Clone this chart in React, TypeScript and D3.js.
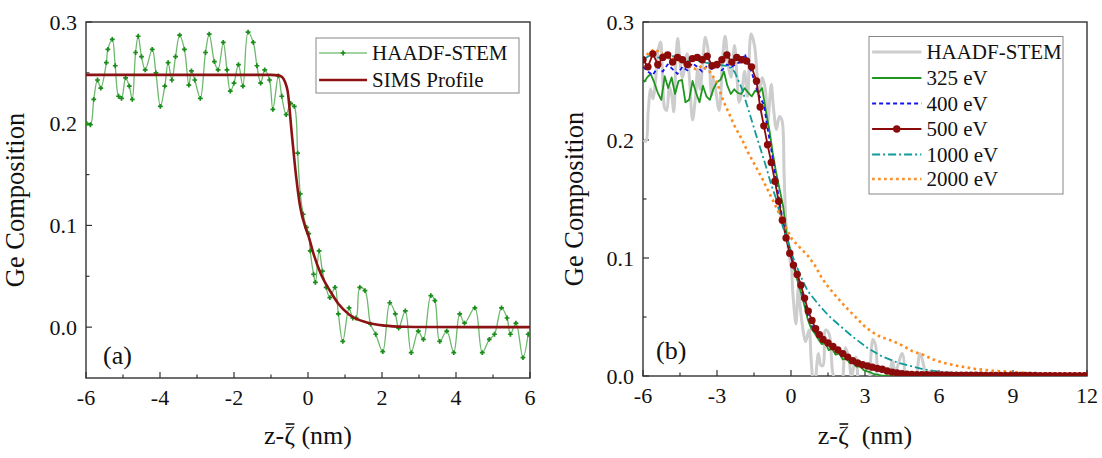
import { useEffect, useRef, useState } from "react"
import * as d3 from "d3"

// ---- panel (a): HAADF-STEM trace and SIMS profile ----
const haadfZ = [
  -5.98, -5.88, -5.79, -5.69, -5.6, -5.45, -5.41, -5.29, -5.21, -5.12, -5.04, -4.93, -4.83, -4.75, -4.66, -4.59, -4.5, -4.4,
  -4.21, -4.11, -3.99, -3.87, -3.78, -3.68, -3.58, -3.47, -3.34, -3.22, -3.15, -3.06, -2.91, -2.77, -2.67, -2.53, -2.43,
  -2.29, -2.19, -2.1, -2.0, -1.88, -1.76, -1.62, -1.48, -1.38, -1.28, -1.17, -1.04, -0.95, -0.8, -0.71, -0.59, -0.47,
  -0.37, -0.28, -0.21, -0.13, -0.04, 0.02, 0.06, 0.15, 0.2, 0.3, 0.39, 0.49, 0.59, 0.73, 0.82, 0.94, 1.11, 1.21, 1.3, 1.4,
  1.54, 1.69, 1.83, 2.02, 2.21, 2.36, 2.45, 2.63, 2.79, 2.98, 3.12, 3.32, 3.43, 3.56, 3.75, 3.94, 4.1, 4.23, 4.51, 4.71,
  4.9, 5.04, 5.23, 5.38, 5.47, 5.62, 5.81, 5.95,
]
const haadfGe = [
  0.2, 0.199, 0.224, 0.243, 0.235, 0.26, 0.273, 0.283, 0.257, 0.227, 0.225, 0.245, 0.237, 0.224, 0.27, 0.286, 0.266, 0.253,
  0.273, 0.25, 0.217, 0.237, 0.26, 0.243, 0.266, 0.287, 0.273, 0.238, 0.252, 0.243, 0.225, 0.27, 0.288, 0.261, 0.253,
  0.28, 0.253, 0.232, 0.24, 0.258, 0.237, 0.29, 0.28, 0.257, 0.24, 0.253, 0.243, 0.214, 0.247, 0.227, 0.209, 0.22,
  0.217, 0.171, 0.131, 0.111, 0.098, 0.092, 0.075, 0.052, 0.044, 0.075, 0.055, 0.039, 0.029, 0.039, 0.013, -0.014, 0.019,
  0.009, 0.009, 0.039, 0.036, 0.003, -0.007, -0.024, 0.024, 0.013, -0.001, 0.016, -0.025, -0.004, -0.012, 0.031, 0.026,
  -0.014, -0.004, -0.025, 0.013, 0.004, 0.019, -0.025, -0.012, -0.007, 0.019, 0.009, -0.007, 0.004, -0.03, -0.007,
]
const simsZ = [-6, -1, -0.8, -0.7, -0.62, -0.55, -0.44, -0.33, -0.21, -0.06, 0.01, 0.15, 0.35, 0.59, 0.82, 1.11, 1.59, 2.07, 2.6, 3.2, 6]
const simsGe = [0.248, 0.248, 0.2475, 0.246, 0.241, 0.232, 0.191, 0.151, 0.118, 0.097, 0.09, 0.072, 0.052, 0.036, 0.023, 0.0125, 0.0045, 0.0015, 0.0004, 0.0001, 0]

// ---- panel (b): simulated profiles ----
const ev325Z = [
  -5.97, -5.83, -5.69, -5.55, -5.4, -5.26, -5.12, -4.98, -4.84, -4.7, -4.56, -4.42, -4.28, -4.13, -3.99, -3.85, -3.71, -3.57,
  -3.43, -3.29, -3.15, -3.0, -2.86, -2.72, -2.58, -2.44, -2.3, -2.16, -2.02, -1.88, -1.73, -1.59, -1.45, -1.31, -1.17, -1.03,
  -0.88, -0.74, -0.6, -0.46, -0.32, -0.17, 0.0, 0.12, 0.26, 0.4, 0.54, 0.68, 0.82, 0.97, 1.11, 1.25, 1.39, 1.53, 1.67, 1.81,
  1.96, 2.1, 2.24, 2.38, 2.52, 2.66, 2.81, 2.95, 3.09, 3.23, 3.37, 3.65, 4.0, 12,
]
const ev325Ge = [
  0.249, 0.253, 0.256, 0.249, 0.24, 0.234, 0.254, 0.244, 0.253, 0.239, 0.25, 0.251, 0.232, 0.234, 0.25, 0.24, 0.232, 0.246,
  0.237, 0.234, 0.243, 0.249, 0.251, 0.258, 0.246, 0.239, 0.243, 0.24, 0.239, 0.244, 0.24, 0.237, 0.242, 0.24, 0.244, 0.226,
  0.209, 0.189, 0.172, 0.158, 0.144, 0.119, 0.105, 0.091, 0.081, 0.071, 0.06, 0.048, 0.04, 0.036, 0.031, 0.027, 0.028, 0.022,
  0.023, 0.018, 0.019, 0.014, 0.015, 0.011, 0.011, 0.008, 0.008, 0.005, 0.004, 0.003, 0.0015, 0.0005, 0, 0,
]
const ev400Z = [
  -6.0, -5.8, -5.6, -5.4, -5.2, -5.0, -4.8, -4.6, -4.4, -4.2, -4.0, -3.8, -3.6, -3.4, -3.2, -3.0, -2.8, -2.6, -2.4, -2.2,
  -2.0, -1.87, -1.75, -1.6, -1.45, -1.3, -1.1, -0.95, -0.8, -0.65, -0.5, -0.35, -0.2, -0.05, 0.1, 0.25, 0.4, 0.55, 0.7,
  0.85, 1.0, 1.2, 1.4, 1.7, 2.0, 2.4, 2.8, 3.2, 3.6, 4.0, 4.5, 5.0, 6, 8, 10, 12,
]
const ev400Ge = [
  0.262, 0.258, 0.255, 0.262, 0.258, 0.264, 0.26, 0.256, 0.262, 0.259, 0.265, 0.262, 0.258, 0.263, 0.26, 0.262, 0.259, 0.264,
  0.262, 0.265, 0.266, 0.273, 0.265, 0.258, 0.247, 0.238, 0.23, 0.21, 0.192, 0.172, 0.152, 0.134, 0.118, 0.105, 0.095, 0.086,
  0.077, 0.063, 0.05, 0.042, 0.037, 0.032, 0.028, 0.023, 0.019, 0.014, 0.01, 0.0065, 0.004, 0.0025, 0.0015, 0.001, 0.0005,
  0.0002, 0.0001, 0,
]
const ev500Z = [
  -6.0, -5.8, -5.6, -5.4, -5.2, -5.0, -4.8, -4.6, -4.4, -4.2, -4.0, -3.8, -3.6, -3.4, -3.2, -3.0, -2.8, -2.6, -2.4, -2.2,
  -2.0, -1.8, -1.6, -1.4, -1.25, -1.1, -0.95, -0.8, -0.65, -0.5, -0.35, -0.2, -0.05, 0.1, 0.25, 0.4, 0.55, 0.7, 0.85, 1.0,
  1.15, 1.3, 1.5, 1.7, 1.9, 2.1, 2.3, 2.5, 2.7, 2.9, 3.1, 3.3, 3.5, 3.7, 3.9, 4.1, 4.3, 4.5, 4.7, 4.9, 5.1, 5.3, 5.5, 5.7,
  5.9, 6.1, 6.3, 6.5, 6.7, 6.9, 7.1, 7.3, 7.5, 7.7, 7.9, 8.1, 8.3, 8.5, 8.7, 8.9, 9.1, 9.3, 9.5, 9.7, 9.9, 10.1, 10.3,
  10.5, 10.7, 10.9, 11.1, 11.3, 11.5, 11.7, 11.9,
]
const ev500Ge = [
  0.268, 0.262, 0.273, 0.264, 0.27, 0.272, 0.266, 0.27, 0.268, 0.264, 0.269, 0.27, 0.268, 0.271, 0.263, 0.264, 0.268, 0.272,
  0.266, 0.27, 0.268, 0.267, 0.262, 0.25, 0.228, 0.212, 0.196, 0.181, 0.165, 0.148, 0.132, 0.117, 0.104, 0.094, 0.086, 0.077,
  0.066, 0.055, 0.047, 0.04, 0.035, 0.031, 0.028, 0.025, 0.022, 0.019, 0.016, 0.013, 0.011, 0.0095, 0.0085, 0.0075, 0.0065,
  0.0057, 0.0042, 0.0033, 0.0026, 0.0019, 0.0016, 0.0014, 0.0012, 0.0011, 0.001, 0.0009, 0.0009, 0.0008, 0.0008, 0.0007,
  0.0007, 0.0007, 0.0006, 0.0006, 0.0006, 0.0006, 0.0005, 0.0005, 0.0005, 0.0005, 0.0005, 0.0004, 0.0004, 0.0004, 0.0004,
  0.0004, 0.0004, 0.0003, 0.0003, 0.0003, 0.0003, 0.0003, 0.0003, 0.0003, 0.0003, 0.0003, 0.0003,
]
const ev1000Z = [
  -6.0, -5.7, -5.4, -5.1, -4.8, -4.5, -4.2, -3.9, -3.6, -3.3, -3.0, -2.7, -2.5, -2.29, -2.0, -1.73, -1.44, -1.2, -1.02, -0.8,
  -0.6, -0.34, -0.17, 0.11, 0.4, 0.68, 1.1, 1.53, 1.96, 2.52, 3.09, 3.65, 4.36, 5.35, 6.06, 7.47, 8.89, 10.5, 12,
]
const ev1000Ge = [
  0.268, 0.272, 0.27, 0.268, 0.271, 0.269, 0.267, 0.268, 0.266, 0.265, 0.264, 0.263, 0.262, 0.258, 0.244, 0.226, 0.206, 0.19,
  0.178, 0.162, 0.15, 0.127, 0.116, 0.099, 0.084, 0.072, 0.061, 0.051, 0.043, 0.033, 0.024, 0.017, 0.011, 0.0057, 0.0034,
  0.0014, 0.0006, 0.0002, 0,
]
const ev2000Z = [
  -6, -5.8, -5.55, -5.3, -5.0, -4.6, -4.2, -3.85, -3.6, -3.3, -3.0, -2.86, -2.72, -2.5, -2.29, -2.0, -1.73, -1.44, -1.16,
  -0.88, -0.6, -0.31, 0.04, 0.4, 0.68, 0.96, 1.25, 1.53, 1.81, 2.24, 2.66, 2.94, 3.23, 3.65, 4.08, 4.5, 4.92, 5.35, 5.77,
  6.2, 6.76, 7.47, 8.18, 8.89, 9.6, 10.3, 11, 12,
]
const ev2000Ge = [
  0.268, 0.273, 0.277, 0.274, 0.27, 0.268, 0.263, 0.26, 0.263, 0.258, 0.249, 0.24, 0.232, 0.222, 0.212, 0.201, 0.189, 0.178,
  0.167, 0.155, 0.143, 0.13, 0.116, 0.108, 0.102, 0.094, 0.083, 0.075, 0.068, 0.058, 0.049, 0.043, 0.038, 0.033, 0.03,
  0.026, 0.021, 0.018, 0.014, 0.011, 0.0085, 0.006, 0.0045, 0.0035, 0.0025, 0.002, 0.0015, 0.0011,
]

const legendA = ["HAADF-STEM", "SIMS Profile"]
const legendB = ["HAADF-STEM", "325 eV", "400 eV", "500 eV", "1000 eV", "2000 eV"]

const FONT = "'Liberation Serif', 'Times New Roman', serif"
const FRAME = "#333"

type Frame = { x0: number; x1: number; y0: number; y1: number }

function linePath(z: number[], v: number[], x: (n: number) => number, y: (n: number) => number, curve: any = d3.curveLinear) {
  return d3
    .line<number>()
    .x((_, i) => x(z[i]))
    .y((d) => y(d))
    .curve(curve)(v) as string
}

// x-axis title with a bar drawn over the zeta (measured after mount)
function XTitle({ cx, y, label }: { cx: number; y: number; label: string }) {
  const ref = useRef<SVGTextElement>(null)
  const [bar, setBar] = useState<{ x1: number; x2: number } | null>(null)
  useEffect(() => {
    const t = ref.current
    if (!t) return
    const i = label.indexOf("\u03B6")
    const s = t.getStartPositionOfChar(i)
    const e = t.getEndPositionOfChar(i)
    setBar({ x1: s.x + 1.5, x2: e.x - 0.5 })
  }, [label])
  return (
    <g>
      <text ref={ref} x={cx} y={y} textAnchor="middle" fontSize={26} style={{ whiteSpace: "pre" }}>
        {label}
      </text>
      {bar && <line x1={bar.x1} x2={bar.x2} y1={y - 20} y2={y - 20} stroke="#111" strokeWidth={1.6} />}
    </g>
  )
}

function Axes({ f, x, y, xMajor, xMinor, yMajor, yMinor, id }: any) {
  return (
    <g>
      {xMajor.map((t: number) => (
        <g key={"xm" + t}>
          <line x1={x(t)} x2={x(t)} y1={f.y1} y2={f.y1 - 6} stroke={FRAME} strokeWidth={1.2} />
          <text x={x(t)} y={f.y1 + 27} textAnchor="middle" fontSize={22}>
            {String(t)}
          </text>
        </g>
      ))}
      {xMinor.map((t: number) => (
        <line key={"xn" + t} x1={x(t)} x2={x(t)} y1={f.y1} y2={f.y1 - 3.5} stroke={FRAME} strokeWidth={1.2} />
      ))}
      {yMajor.map((t: number) => (
        <g key={"ym" + t}>
          <line x1={f.x0} x2={f.x0 + 6} y1={y(t)} y2={y(t)} stroke={FRAME} strokeWidth={1.2} />
          <text x={f.x0 - 9} y={y(t)} dy="0.35em" textAnchor="end" fontSize={22}>
            {d3.format(".1f")(t)}
          </text>
        </g>
      ))}
      {yMinor.map((t: number) => (
        <line key={"yn" + t} x1={f.x0} x2={f.x0 + 3.5} y1={y(t)} y2={y(t)} stroke={FRAME} strokeWidth={1.2} />
      ))}
      <rect x={f.x0} y={f.y0} width={f.x1 - f.x0} height={f.y1 - f.y0} fill="none" stroke={FRAME} strokeWidth={1.4} />
      <clipPath id={id}>
        <rect x={f.x0} y={f.y0} width={f.x1 - f.x0} height={f.y1 - f.y0} />
      </clipPath>
    </g>
  )
}

function PanelA() {
  const f: Frame = { x0: 86, x1: 530, y0: 22, y1: 378 }
  const x = d3.scaleLinear().domain([-6, 6]).range([f.x0, f.x1])
  const y = d3.scaleLinear().domain([-0.05, 0.3]).range([f.y1, f.y0])
  const plus = haadfGe.map((v, i) => {
    const cx = x(haadfZ[i])
    const cy = y(v)
    return `M${cx - 2.4},${cy}h4.8M${cx},${cy - 2.4}v4.8`
  })
  const lx0 = f.x0 + 0.525 * (f.x1 - f.x0)
  const lx1 = f.x0 + 0.633 * (f.x1 - f.x0)
  const rows = [53, 80]
  return (
    <g>
      <Axes
        f={f}
        x={x}
        y={y}
        id="clipA"
        xMajor={d3.range(-6, 7, 2)}
        xMinor={d3.range(-5, 6, 2)}
        yMajor={[0, 0.1, 0.2, 0.3]}
        yMinor={[0.05, 0.15, 0.25]}
      />
      <g clipPath="url(#clipA)">
        <path d={linePath(haadfZ, haadfGe, x, y, d3.curveCatmullRom)} fill="none" stroke="#47a647" strokeWidth={1.3} opacity={0.8} />
        <path d={plus.join("")} fill="none" stroke="#1a8c1a" strokeWidth={1.7} />
        <path d={linePath(simsZ, simsGe, x, y, d3.curveMonotoneX)} fill="none" stroke="#8b1313" strokeWidth={2.6} />
      </g>
      <rect x={316} y={38} width={203} height={55} fill="#fff" stroke="#888" strokeWidth={1} />
      <line x1={lx0} x2={lx1} y1={rows[0]} y2={rows[0]} stroke="#47a647" strokeWidth={1.2} />
      <path d={`M${(lx0 + lx1) / 2 - 2.4},${rows[0]}h4.8M${(lx0 + lx1) / 2},${rows[0] - 2.4}v4.8`} stroke="#1a8c1a" strokeWidth={1.7} />
      <line x1={lx0} x2={lx1} y1={rows[1]} y2={rows[1]} stroke="#8b1313" strokeWidth={2.6} />
      {legendA.map((s, i) => (
        <text key={s} x={lx1 + 5} y={rows[i]} dy="0.35em" fontSize={21}>
          {s}
        </text>
      ))}
      <text x={103} y={364} fontSize={26}>
        (a)
      </text>
      <text transform={`translate(${f.x0 - 62},${(f.y0 + f.y1) / 2}) rotate(-90)`} textAnchor="middle" fontSize={26.5}>
        Ge Composition
      </text>
      <XTitle cx={(f.x0 + f.x1) / 2} y={444} label={"z-\u03B6 (nm)"} />
    </g>
  )
}

function PanelB() {
  const f: Frame = { x0: 643, x1: 1087, y0: 22, y1: 376 }
  const x = d3.scaleLinear().domain([-6, 12]).range([f.x0, f.x1])
  const y = d3.scaleLinear().domain([0, 0.3]).range([f.y1, f.y0])
  const series = [
    { z: haadfZ, v: haadfGe, stroke: "#cdcdcd", width: 3, dash: undefined as string | undefined, curve: d3.curveCatmullRom as any },
    { z: ev325Z, v: ev325Ge, stroke: "#1f961f", width: 1.8, dash: undefined, curve: d3.curveLinear },
    { z: ev400Z, v: ev400Ge, stroke: "#1414f0", width: 1.8, dash: "4,3", curve: d3.curveLinear },
    { z: ev500Z, v: ev500Ge, stroke: "#8b0a0a", width: 1.8, dash: undefined, curve: d3.curveLinear },
    { z: ev1000Z, v: ev1000Ge, stroke: "#119a9a", width: 1.8, dash: "8,3,2,3", curve: d3.curveLinear },
    { z: ev2000Z, v: ev2000Ge, stroke: "#ff8a1c", width: 2.6, dash: "2.6,3.4", curve: d3.curveLinear },
  ]
  const lx0 = f.x0 + 0.516 * (f.x1 - f.x0)
  const lx1 = f.x0 + 0.627 * (f.x1 - f.x0)
  const rows = [52, 78, 103.5, 129, 154.5, 179]
  return (
    <g>
      <Axes
        f={f}
        x={x}
        y={y}
        id="clipB"
        xMajor={d3.range(-6, 13, 3)}
        xMinor={d3.range(-4.5, 12, 3)}
        yMajor={[0, 0.1, 0.2, 0.3]}
        yMinor={[0.05, 0.15, 0.25]}
      />
      <g clipPath="url(#clipB)">
        {series.map((s, i) => (
          <path
            key={i}
            d={linePath(s.z, s.v, x, y, s.curve)}
            fill="none"
            stroke={s.stroke}
            strokeWidth={s.width}
            strokeDasharray={s.dash}
            strokeLinejoin="round"
          />
        ))}
        {ev500Ge.map((v, i) => (
          <circle key={i} cx={x(ev500Z[i])} cy={y(v)} r={3.7} fill="#8b0a0a" />
        ))}
      </g>
      <rect x={869} y={36.5} width={194} height={157.5} fill="#fff" stroke="#888" strokeWidth={1} />
      {series.map((s, i) => (
        <line
          key={i}
          x1={lx0}
          x2={lx1}
          y1={rows[i]}
          y2={rows[i]}
          stroke={s.stroke}
          strokeWidth={s.width}
          strokeDasharray={s.dash}
        />
      ))}
      <circle cx={(lx0 + lx1) / 2} cy={rows[3]} r={3.7} fill="#8b0a0a" />
      {legendB.map((s, i) => (
        <text key={i} x={lx1 + 5} y={rows[i]} dy="0.35em" fontSize={21}>
          {s}
        </text>
      ))}
      <text x={656} y={359} fontSize={26}>
        (b)
      </text>
      <text transform={`translate(${f.x0 - 60},${(f.y0 + f.y1) / 2}) rotate(-90)`} textAnchor="middle" fontSize={26.5}>
        Ge Composition
      </text>
      <XTitle cx={(f.x0 + f.x1) / 2} y={444} label={"z-\u03B6  (nm)"} />
    </g>
  )
}

export default function App() {
  return (
    <svg
      width={1102}
      height={458}
      style={{ position: "absolute", left: 0, top: 0, background: "#fff", fontFamily: FONT }}
      fill="#111"
    >
      <rect width={1102} height={458} fill="#fff" />
      <PanelA />
      <PanelB />
    </svg>
  )
}
